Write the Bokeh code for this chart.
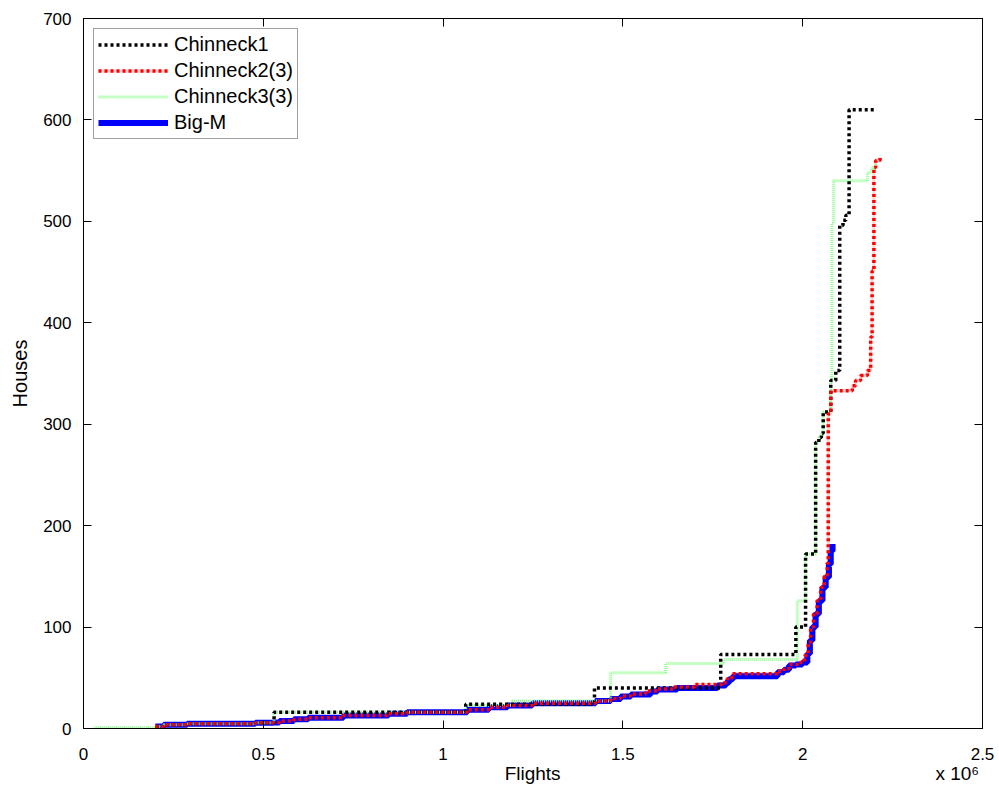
from bokeh.plotting import figure
from bokeh.models import (Range1d, FixedTicker, LinearAxis, Legend, LegendItem,
                          CustomJSTickFormatter)
from bokeh.embed import file_html
from bokeh.resources import INLINE

# Cumulative houses versus flights for each method (step curves)
chinneck1_flights = [200000, 223000, 288000, 478000, 530000, 1063000, 1421000, 1772000,
                     1981000, 2008000, 2036000, 2045000, 2052000, 2057000, 2078000, 2092000,
                     2103000, 2112000, 2120000, 2129000, 2206000]
chinneck1_houses = [2, 3.6, 4.6, 5.6, 16, 24, 40, 73,
                    100, 172, 282, 287, 291, 312, 343, 353,
                    496, 501, 506, 610, 610]

chinneck2_flights = [200000, 223000, 288000, 478000, 529000, 545000, 585000, 625000, 723000,
                     848000, 900000, 1067000, 1127000, 1179000, 1248000, 1424000, 1466000,
                     1494000, 1522000, 1563000, 1596000, 1640000, 1700000, 1775000, 1790000,
                     1803000, 1930000, 1948000, 1962000, 1985000, 2005000, 2015000, 2022000,
                     2030000, 2040000, 2050000, 2060000, 2068000, 2071000, 2078000, 2138000,
                     2147000, 2161000, 2180000, 2189000, 2193000, 2198000, 2203000, 2215000]
chinneck2_houses = [2, 3.6, 4.6, 5.6, 6, 7.5, 9, 10.5, 12.8,
                    14.5, 16, 18.4, 21, 22.7, 25, 27, 29.5,
                    32, 34, 37, 39, 41, 43.4, 45, 49,
                    54, 56.5, 59, 63, 65, 72, 85, 100,
                    113, 126, 139, 150, 163, 310, 333, 338,
                    343, 348, 353, 386, 451, 553, 560, 563]

chinneck3_flights = [30000, 200000, 223000, 288000, 478000, 530000, 1063000, 1192000,
                     1466000, 1619000, 1781000, 1985000, 2008000, 2036000, 2045000, 2052000,
                     2057000, 2078000, 2081000, 2086000, 2180000, 2190000, 2198000, 2203000]
chinneck3_houses = [1, 2, 3.6, 4.6, 5.6, 16, 23, 27,
                    55, 64, 68, 126, 172, 282, 287, 291,
                    312, 343, 498, 540, 548, 552, 555, 556]

bigm_flights = [200000, 223000, 288000, 478000, 529000, 545000, 585000, 625000, 723000,
                848000, 900000, 1067000, 1127000, 1179000, 1248000, 1424000, 1466000,
                1494000, 1522000, 1577000, 1596000, 1651000, 1763000, 1786000, 1795000,
                1806000, 1930000, 1948000, 1962000, 1981000, 1999000, 2013000, 2020000,
                2027000, 2036000, 2045000, 2055000, 2064000, 2073000, 2078000, 2083000]
bigm_houses = [2, 3.6, 4.6, 5.6, 6, 7.5, 9, 10.5, 12.8,
               14.5, 16, 18.4, 21, 22.7, 25, 27, 29,
               31.5, 33.5, 36.5, 38.4, 40, 42.4, 45, 48.5,
               51.5, 55.5, 58, 62, 63, 65, 73.6, 86.8,
               100, 113, 126, 139, 149, 162, 175, 182]

x_ticks = [0, 500000, 1000000, 1500000, 2000000, 2500000]
y_ticks = [0, 100, 200, 300, 400, 500, 600, 700]

# Positions (in flights) of the x-axis title and of the 10^6 multiplier
x_title = "Flights"
x_title_at = 1249000
x_scale_text = "x 10\u2076"
x_scale_at = 2430000

FONT = "Liberation Sans"

p = figure(width=999, height=791, output_backend="svg", toolbar_location=None,
           x_range=Range1d(0, 2500000), y_range=Range1d(0, 700),
           min_border_left=83, min_border_right=17, min_border_top=18,
           min_border_bottom=63, background_fill_color="white",
           border_fill_color="white")
p.xgrid.visible = False
p.ygrid.visible = False
p.outline_line_color = "black"
p.outline_line_width = 1

# Extra axes on top and right give the closed box with inward ticks
p.add_layout(LinearAxis(), "above")
p.add_layout(LinearAxis(), "right")

# A second bottom axis carries the axis title and the multiplier on one line
title_axis = LinearAxis(ticker=FixedTicker(ticks=[x_title_at, x_scale_at]))
title_axis.formatter = CustomJSTickFormatter(
    args=dict(title=x_title, scale=x_scale_text, split=2000000),
    code="return tick < split ? title : scale;")
p.add_layout(title_axis, "below")

main_x, top_x = p.below[0], p.above[0]
for ax in (main_x, top_x):
    ax.ticker = FixedTicker(ticks=x_ticks)
    ax.formatter = CustomJSTickFormatter(code="return (tick / 1e6).toString();")
for ax in p.yaxis:
    ax.ticker = FixedTicker(ticks=y_ticks)

for ax in (main_x, top_x, p.left[0], p.right[0]):
    ax.major_tick_in = 8
    ax.major_tick_out = 0
    ax.minor_tick_line_color = None
    ax.axis_line_color = "black"
    ax.major_tick_line_color = "black"
    ax.major_label_text_font = FONT
    ax.major_label_text_font_size = "17px"
    ax.major_label_text_color = "black"

for ax in (top_x, p.right[0]):
    ax.major_label_text_color = None
    ax.major_label_standoff = 0

main_x.major_label_standoff = 19

title_axis.axis_line_color = None
title_axis.major_tick_line_color = None
title_axis.minor_tick_line_color = None
title_axis.major_tick_in = 0
title_axis.major_tick_out = 0
title_axis.major_label_standoff = 0
title_axis.major_label_text_font = FONT
title_axis.major_label_text_font_size = "19px"
title_axis.major_label_text_color = "black"

p.left[0].axis_label = "Houses"
p.left[0].major_label_standoff = 12
p.left[0].axis_label_standoff = 9
p.left[0].axis_label_text_font = FONT
p.left[0].axis_label_text_font_size = "20px"
p.left[0].axis_label_text_font_style = "normal"
p.left[0].axis_label_text_color = "black"

# Pale underlay that fills the gaps of the red dotted curve
r_c2_halo = p.step(chinneck2_flights, chinneck2_houses, mode="after",
                   line_color="#ffd2d2", line_width=3)
r_bigm = p.step(bigm_flights, bigm_houses, mode="after",
                line_color="#0000ff", line_width=6)
r_c3 = p.step(chinneck3_flights, chinneck3_houses, mode="after",
              line_color="#8cff8c", line_width=3, line_dash="1 1")
r_c1 = p.step(chinneck1_flights, chinneck1_houses, mode="after",
              line_color="black", line_width=3.5, line_dash="3 3")
r_c2 = p.step(chinneck2_flights, chinneck2_houses, mode="after",
              line_color="#ff0000", line_width=3.5, line_dash="3 3")

legend = Legend(items=[
    LegendItem(label="Chinneck1", renderers=[r_c1]),
    LegendItem(label="Chinneck2(3)", renderers=[r_c2_halo, r_c2]),
    LegendItem(label="Chinneck3(3)", renderers=[r_c3]),
    LegendItem(label="Big-M", renderers=[r_bigm]),
], location="top_left")
legend.margin = 10
legend.padding = 4
legend.spacing = 3
legend.glyph_width = 70
legend.glyph_height = 23
legend.label_height = 23
legend.label_standoff = 6
legend.label_text_font = FONT
legend.label_text_font_size = "20px"
legend.label_text_color = "black"
legend.border_line_color = "#444444"
legend.border_line_width = 1
legend.background_fill_color = "white"
legend.background_fill_alpha = 1
p.add_layout(legend)

open("out.html", "w").write(file_html(p, INLINE))
